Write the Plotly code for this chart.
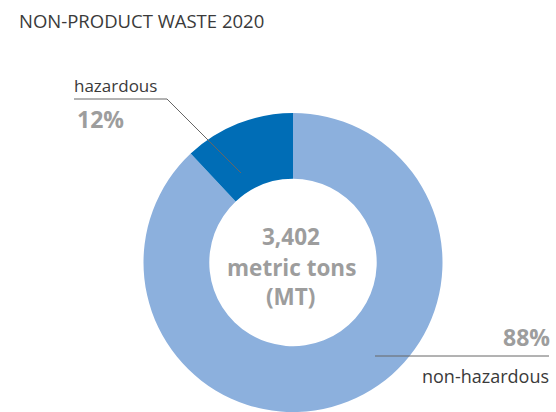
import plotly.graph_objects as go

W, H = 556, 412

labels = ["non-hazardous", "hazardous"]
values = [88, 12]
colors = ["#8cb0dd", "#006db6"]
center_lines = ["3,402", "metric tons", "(MT)"]
pct_labels = ["88%", "12%"]
title_text = "NON-PRODUCT WASTE 2020"

def px(x):
    return x / W

def py(y):
    return 1 - y / H

fig = go.Figure()
fig.add_trace(go.Pie(
    labels=labels, values=values, hole=0.56, sort=False,
    direction="clockwise", rotation=0,
    marker=dict(colors=colors, line=dict(width=0)),
    textinfo="none", hoverinfo="label+percent", showlegend=False,
    domain=dict(x=[px(143), px(443)], y=[py(412), py(113)]),
))

FONT = "Open Sans"
GRAY = "#9d9d9d"
DARK = "#3a3a3a"

ann = []
ann.append(dict(x=px(17), y=py(21), text=title_text, showarrow=False,
                xanchor="left", yanchor="middle",
                font=dict(family=FONT, size=18.5, color=DARK)))
ann.append(dict(x=px(72), y=py(85), text=labels[1], showarrow=False,
                xanchor="left", yanchor="middle",
                font=dict(family=FONT, size=17, color=DARK)))
ann.append(dict(x=px(75), y=py(119), text=pct_labels[1], showarrow=False,
                xanchor="left", yanchor="middle",
                font=dict(family=FONT, size=23, color=GRAY, weight="bold")))
ann.append(dict(x=px(552), y=py(337), text=pct_labels[0], showarrow=False,
                xanchor="right", yanchor="middle",
                font=dict(family=FONT, size=23, color=GRAY, weight="bold")))
ann.append(dict(x=px(551), y=py(376), text=labels[0], showarrow=False,
                xanchor="right", yanchor="middle",
                font=dict(family=FONT, size=18, color=DARK)))
for t, yy in zip(center_lines, [236, 267, 296]):
    ann.append(dict(x=px(291), y=py(yy), text=t, showarrow=False,
                    xanchor="center", yanchor="middle",
                    font=dict(family=FONT, size=22.5, color=GRAY, weight="bold")))

shapes = [
    dict(type="line", xref="paper", yref="paper", x0=px(74), y0=py(99), x1=px(167), y1=py(99),
         line=dict(color="#666666", width=1)),
    dict(type="line", xref="paper", yref="paper", x0=px(167), y0=py(99), x1=px(241), y1=py(173),
         line=dict(color="#666666", width=1)),
    dict(type="line", xref="paper", yref="paper", x0=px(375), y0=py(356), x1=px(549), y1=py(356),
         line=dict(color="#666666", width=1)),
]

fig.update_layout(
    width=W, height=H, margin=dict(l=0, r=0, t=0, b=0),
    paper_bgcolor="white", plot_bgcolor="white",
    annotations=ann, shapes=shapes,
)
fig.write_html("out.html", config={"displayModeBar": False},
               post_script="document.body.style.margin='0';document.body.style.overflow='hidden';")
